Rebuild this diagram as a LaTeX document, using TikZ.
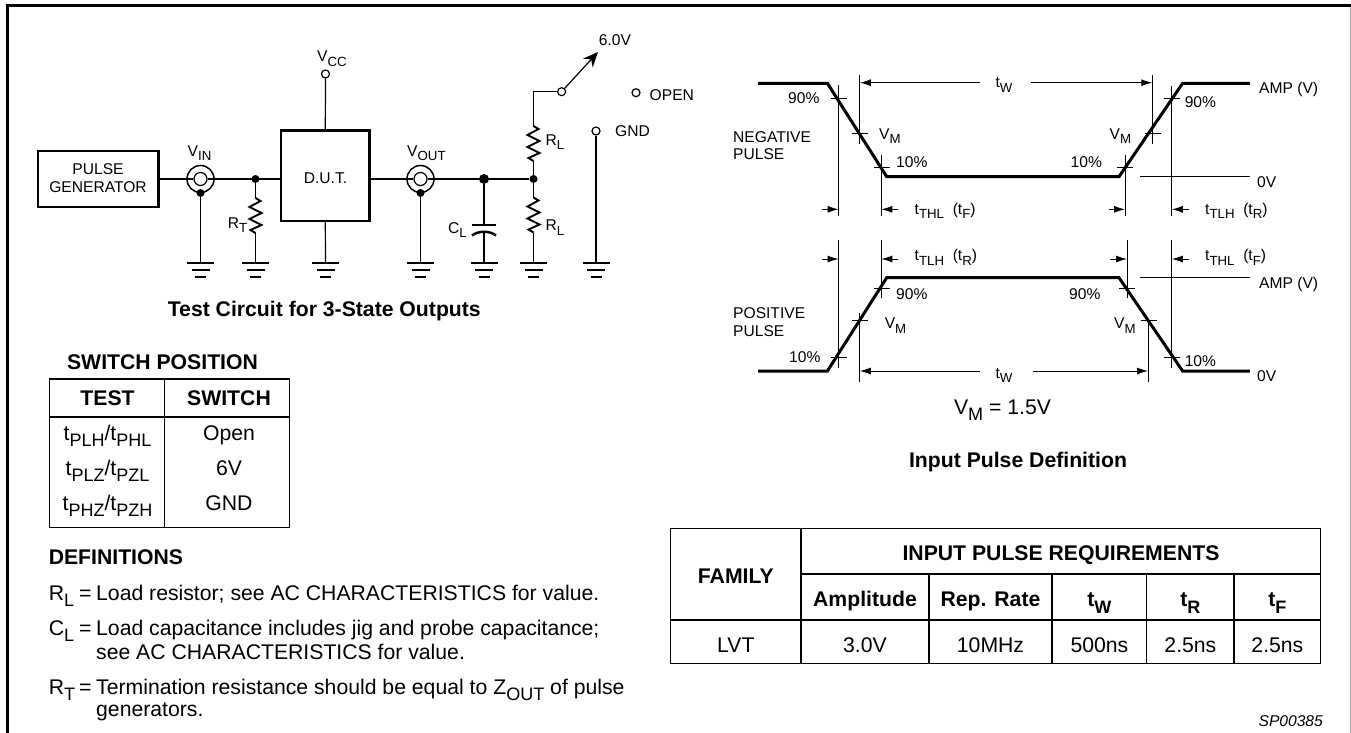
\documentclass[tikz,border=0pt]{standalone}
\usepackage{fontspec}
\setmainfont{Liberation Sans}
\usetikzlibrary{arrows.meta}
\newcommand{\lowtxt}[1]{\raisebox{-.3em}{\scalebox{.85}{#1}}}
\definecolor{framegray}{gray}{0.65}
\tikzset{
    smalltxt/.style={font=\fontsize{15.6}{18}\selectfont,inner sep=0pt},
    bodytxt/.style={font=\fontsize{21.2}{25}\selectfont,inner sep=0pt},
    headtxt/.style={font=\fontsize{21.2}{25}\selectfont\bfseries,inner sep=0pt},
    wire/.style={line width=1.2pt},
    heavybox/.style={draw,line width=2.4pt,inner sep=0pt},
    termnode/.style={draw,line width=1.2pt,circle,fill=white,inner sep=0pt,minimum size=8pt},
    jointdot/.style={circle,fill=black,inner sep=0pt,minimum size=8pt},
    coaxinner/.style={draw,line width=1.2pt,circle,fill=white,inner sep=0pt,minimum size=13pt},
    coaxouter/.style={draw,line width=1.5pt,circle,inner sep=0pt,minimum size=27pt},
    pulseline/.style={line width=3pt},
    thinline/.style={line width=1pt},
    tickline/.style={line width=1.1pt},
    dimarrow/.style={line width=1pt,-{Latex[length=11pt,width=7pt]}},
    tablerule/.style={line width=1.3pt},
    gndsym/.pic={
        \draw[line width=2.4pt] (-13.5,0) -- (13.5,0);
        \draw[line width=2.4pt] (-9,7) -- (9,7);
        \draw[line width=2.4pt] (-5.5,14) -- (5.5,14);
    },
    zigzag/.pic={
        \coordinate (-a) at (0,0);
        \coordinate (-b) at (0,35);
        \draw[line width=1.9pt,line join=miter] (0,0) -- (5,3) -- (-6,9) -- (6,15) -- (-6,21) -- (6,27) -- (-5,32) -- (0,35);
    },
}
\begin{document}
\begin{tikzpicture}[x=1pt,y=-1pt]
    \useasboundingbox (0,0) rectangle (1351,733);

    % outer frame
    \draw[framegray,line width=1pt] (1350,5.6) -- (1350,733);
    \draw[line width=2.8pt] (7.3,733) -- (7.3,5.6) -- (1351,5.6);

    % test circuit
    \node[heavybox,minimum width=120.5pt,minimum height=56pt] (pgen) at (98.2,179) {};
    \node[smalltxt,anchor=base] (pgenA) at (98,174) {PULSE};
    \node[smalltxt,anchor=base] (pgenB) at (98,192) {GENERATOR};
    \node[heavybox,minimum width=88.6pt,minimum height=90pt] (dut) at (325.3,175.7) {};
    \node[smalltxt,anchor=base] (dutlbl) at (325.5,183.3) {D.U.T.};

    \node[coaxinner] (vin) at (200.5,179) {};
    \node[coaxouter] (vinshield) at (vin) {};
    \node[coaxinner] (vout) at (420.5,179) {};
    \node[coaxouter] (voutshield) at (vout) {};
    \node[jointdot] (vindot) at (200.5,193) {};
    \node[jointdot] (voutdot) at (420.5,193) {};
    \node[jointdot] (rtdot) at (255.5,179) {};
    \node[jointdot,minimum size=10pt] (cdot) at (484,179) {};
    \node[jointdot] (rldot) at (533.5,179) {};
    \coordinate (dutin) at (dut.west |- vin);
    \coordinate (dutout) at (dut.east |- vin);

    \node[termnode] (vcc) at (325.5,74) {};
    \node[termnode] (swpole) at (561.6,91.7) {};
    \node[termnode] (swopen) at (636,92.7) {};
    \node[termnode] (swgnd) at (596,131) {};
    \coordinate (swtip) at (598,52);
    \coordinate (rlbend) at (533.5,91.7);

    \foreach \gndname/\gndx in {gvin/200.5,grt/255.5,gdut/325.5,gvout/420.5,gcap/484,grl/533.5,gsw/596}{
        \coordinate (\gndname) at (\gndx,263);
        \pic at (\gndname) {gndsym};
    }

    \pic (rt) at (255.5,198) {zigzag};
    \pic (rlup) at (533.5,126) {zigzag};
    \pic (rllow) at (533.5,197.5) {zigzag};

    \coordinate (captop) at (484,225);
    \coordinate (capbot) at (484,232);

    \draw[wire] (pgen.east |- vin) -- (vin);
    \draw[wire] (vin) -- (dutin);
    \draw[wire] (dutout) -- (vout);
    \draw[wire] (vout) -- (rldot);
    \draw[wire] (vcc) -- (dut.north);
    \draw[wire] (dut.south) -- (gdut);
    \draw[wire] (vindot) -- (gvin);
    \draw[wire] (voutdot) -- (gvout);
    \draw[wire] (rtdot) -- (rt-a);
    \draw[wire] (rt-b) -- (grt);
    \draw[wire] (rldot) -- (rllow-a);
    \draw[wire] (rllow-b) -- (grl);
    \draw[wire] (rldot) -- (rlup-b);
    \draw[wire] (rlup-a) -- (rlbend) -- (swpole);
    \draw[wire] (swgnd) -- (gsw);
    \draw[wire] (cdot) -- (captop);
    \draw[wire] (capbot) -- (gcap);
    \draw[line width=2.4pt] (472,225) -- (496,225);
    \draw[line width=2.4pt] (472,235.5) .. controls (478,230.5) and (490,230.5) .. (496,235.5);
    \draw[wire,-{Stealth[length=15pt,width=13pt]}] (swpole) -- (swtip);

    \node[smalltxt,anchor=base west] (lblvcc) at (317,61.7) {V\lowtxt{CC}};
    \node[smalltxt,anchor=base west] (lblvin) at (187.5,156) {V\lowtxt{IN}};
    \node[smalltxt,anchor=base west] (lblvout) at (407,156) {V\lowtxt{OUT}};
    \node[smalltxt,anchor=base west] (lblrt) at (227.7,228) {R\lowtxt{T}};
    \node[smalltxt,anchor=base west] (lblcl) at (447.8,233) {C\lowtxt{L}};
    \node[smalltxt,anchor=base west] (lblrla) at (545.5,145) {R\lowtxt{L}};
    \node[smalltxt,anchor=base west] (lblrlb) at (545.5,230.7) {R\lowtxt{L}};
    \node[smalltxt,anchor=base] (lblsix) at (615,46) {6.0V};
    \node[smalltxt,anchor=base west] (lblopen) at (649.5,101) {OPEN};
    \node[smalltxt,anchor=base west] (lblgnd) at (615,136.7) {GND};
    \node[headtxt,anchor=base] (circtitle) at (324.3,316) {Test Circuit for 3-State Outputs};

    % negative pulse
    \draw[pulseline] (758,83.3) -- (827.4,83.3) -- (886.7,176.7) -- (1119,176.7) -- (1182.6,83.3) -- (1249.8,83.3);
    \draw[thinline] (838.6,85) -- (838.6,216);
    \draw[thinline] (859.8,75) -- (859.8,144);
    \draw[thinline] (881.3,155) -- (881.3,216);
    \draw[thinline] (1125,155) -- (1125,216);
    \draw[thinline] (1152.3,75) -- (1152.3,144);
    \draw[thinline] (1171.8,86) -- (1171.8,216);
    \draw[thinline] (1139.8,176.7) -- (1249.8,176.7);
    \foreach \tickx/\ticky in {838.6/98.7,860/133.3,881.5/167.7,1125/167.7,1152.7/133.3,1172/98.7}{
        \draw[tickline] (\tickx-8,\ticky) -- (\tickx+8,\ticky);
    }
    \coordinate (twa) at (859.8,82.7);
    \coordinate (twb) at (1152.3,82.7);
    \node[smalltxt,anchor=base] (twup) at (1004,88) {t\lowtxt{W}};
    \draw[dimarrow] (980,82.7) -- (twa);
    \draw[dimarrow] (1030.7,82.7) -- (twb);
    \draw[dimarrow] (822.4,209.3) -- (838.6,209.3);
    \draw[dimarrow] (898.3,209.3) -- (881.3,209.3);
    \draw[dimarrow] (1108.7,209.3) -- (1125,209.3);
    \draw[dimarrow] (1188.8,209.3) -- (1171.8,209.3);
    \node[smalltxt,anchor=base west] (lblneg) at (733,142.3) {NEGATIVE};
    \node[smalltxt,anchor=base west] (lblnegb) at (733,159.3) {PULSE};
    \node[smalltxt,anchor=base west] (n90a) at (788,103.3) {90\%};
    \node[smalltxt,anchor=base west] (n90b) at (1184.6,107.3) {90\%};
    \node[smalltxt,anchor=base west] (nvma) at (879,139.3) {V\lowtxt{M}};
    \node[smalltxt,anchor=base west] (nvmb) at (1109.5,139.3) {V\lowtxt{M}};
    \node[smalltxt,anchor=base west] (n10a) at (896,167.3) {10\%};
    \node[smalltxt,anchor=base west] (n10b) at (1070.5,167.3) {10\%};
    \node[smalltxt,anchor=base west] (namp) at (1259,94) {AMP (V)};
    \node[smalltxt,anchor=base west] (nzero) at (1257,187) {0V};
    \node[smalltxt,anchor=base west] (nthl) at (914.5,214.3) {t\lowtxt{THL}\ \ (t\lowtxt{F})};
    \node[smalltxt,anchor=base west] (ntlh) at (1205,214.3) {t\lowtxt{TLH}\ \ (t\lowtxt{R})};

    % positive pulse
    \draw[pulseline] (758,371) -- (827.4,371) -- (886.7,277.7) -- (1119,277.7) -- (1182.6,371) -- (1249.8,371);
    \draw[thinline] (838.6,240) -- (838.6,368);
    \draw[thinline] (859.8,312.7) -- (859.8,381.7);
    \draw[thinline] (881.3,240) -- (881.3,298.3);
    \draw[thinline] (1127,240) -- (1127,298.3);
    \draw[thinline] (1148,323) -- (1148,381.7);
    \draw[thinline] (1171.8,240) -- (1171.8,368);
    \draw[thinline] (1139.8,277.7) -- (1249.8,277.7);
    \foreach \tickx/\ticky in {838.6/357.7,860/320.3,881.5/288.3,1127/288.3,1148.5/320.3,1172.3/357.7}{
        \draw[tickline] (\tickx-8,\ticky) -- (\tickx+8,\ticky);
    }
    \coordinate (twc) at (859.8,371);
    \coordinate (twd) at (1148,371);
    \node[smalltxt,anchor=base] (twlow) at (1004,378) {t\lowtxt{W}};
    \draw[dimarrow] (980,371) -- (twc);
    \draw[dimarrow] (1033,371) -- (twd);
    \draw[dimarrow] (822.4,259) -- (838.6,259);
    \draw[dimarrow] (898.3,259) -- (881.3,259);
    \draw[dimarrow] (1110.4,259) -- (1127,259);
    \draw[dimarrow] (1188.8,259) -- (1171.8,259);
    \node[smalltxt,anchor=base west] (lblpos) at (733,318) {POSITIVE};
    \node[smalltxt,anchor=base west] (lblposb) at (733,336) {PULSE};
    \node[smalltxt,anchor=base west] (p90a) at (896,299.3) {90\%};
    \node[smalltxt,anchor=base west] (p90b) at (1069,299.3) {90\%};
    \node[smalltxt,anchor=base west] (pvma) at (884.6,328.7) {V\lowtxt{M}};
    \node[smalltxt,anchor=base west] (pvmb) at (1114,328.7) {V\lowtxt{M}};
    \node[smalltxt,anchor=base west] (p10a) at (789,362.7) {10\%};
    \node[smalltxt,anchor=base west] (p10b) at (1184.6,366) {10\%};
    \node[smalltxt,anchor=base west] (pamp) at (1259,288.3) {AMP (V)};
    \node[smalltxt,anchor=base west] (pzero) at (1257,381.7) {0V};
    \node[smalltxt,anchor=base west] (ptlh) at (914.5,260.7) {t\lowtxt{TLH}\ \ (t\lowtxt{R})};
    \node[smalltxt,anchor=base west] (pthl) at (1205,260.7) {t\lowtxt{THL}\ \ (t\lowtxt{F})};
    \node[bodytxt,anchor=base] (vmval) at (1002.5,414) {V\lowtxt{M} = 1.5V};
    \node[headtxt,anchor=base] (pulsetitle) at (1018,467) {Input Pulse Definition};

    % switch table
    \node[headtxt,anchor=base] (swhead) at (162.5,369.5) {SWITCH POSITION};
    \draw[tablerule] (49.4,379) rectangle (289.7,527.3);
    \draw[tablerule] (49.4,417) -- (289.7,417);
    \draw[tablerule] (164.8,379) -- (164.8,527.3);
    \node[headtxt,anchor=base] (swtest) at (107.5,405) {TEST};
    \node[headtxt,anchor=base] (swswitch) at (229,405) {SWITCH};
    \node[bodytxt,anchor=base] (swra) at (107.5,440) {t\lowtxt{PLH}/t\lowtxt{PHL}};
    \node[bodytxt,anchor=base] (swrb) at (107.5,475) {t\lowtxt{PLZ}/t\lowtxt{PZL}};
    \node[bodytxt,anchor=base] (swrc) at (107.5,510) {t\lowtxt{PHZ}/t\lowtxt{PZH}};
    \node[bodytxt,anchor=base] (swva) at (229,440) {Open};
    \node[bodytxt,anchor=base] (swvb) at (229,475) {6V};
    \node[bodytxt,anchor=base] (swvc) at (229,510) {GND};

    % definitions
    \node[headtxt,anchor=base west] (defhead) at (48.6,564) {DEFINITIONS};
    \node[bodytxt,anchor=base west] (defrl) at (48.6,600) {R\lowtxt{L}};
    \node[bodytxt,anchor=base] (defrleq) at (85.4,600) {=};
    \node[bodytxt,anchor=base west] (defrltx) at (96,600) {Load resistor; see AC CHARACTERISTICS for value.};
    \node[bodytxt,anchor=base west] (defcl) at (48.6,635.3) {C\lowtxt{L}};
    \node[bodytxt,anchor=base] (defcleq) at (85.4,635.3) {=};
    \node[bodytxt,anchor=base west] (defcltx) at (96,635.3) {Load capacitance includes jig and probe capacitance;};
    \node[bodytxt,anchor=base west] (defcltxb) at (96,659) {see AC CHARACTERISTICS for value.};
    \node[bodytxt,anchor=base west] (defrt) at (48.6,694.3) {R\lowtxt{T}};
    \node[bodytxt,anchor=base] (defrteq) at (85.4,694.3) {=};
    \node[bodytxt,anchor=base west] (defrttx) at (96,694.3) {Termination resistance should be equal to Z\lowtxt{OUT} of pulse};
    \node[bodytxt,anchor=base west] (defrttxb) at (96,716.7) {generators.};

    % pulse requirements table
    \draw[tablerule] (670.6,528.3) rectangle (1320.8,663.7);
    \draw[tablerule] (801,574) -- (1320.8,574);
    \draw[tablerule] (670.6,620) -- (1320.8,620);
    \draw[tablerule] (801,528.3) -- (801,663.7);
    \foreach \colx in {929,1052,1146.8,1234}{
        \draw[tablerule] (\colx,574) -- (\colx,663.7);
    }
    \node[headtxt,anchor=base] (tfam) at (735.8,583) {FAMILY};
    \node[headtxt,anchor=base] (treq) at (1061,560) {INPUT PULSE REQUIREMENTS};
    \node[headtxt,anchor=base] (tamp) at (865,606.7) {Amplitude};
    \node[headtxt,anchor=base] (trep) at (990.5,606.7) {Rep. Rate};
    \node[headtxt,anchor=base] (ttw) at (1099.4,606.7) {t\lowtxt{W}};
    \node[headtxt,anchor=base] (ttr) at (1190.4,606.7) {t\lowtxt{R}};
    \node[headtxt,anchor=base] (ttf) at (1277.4,606.7) {t\lowtxt{F}};
    \node[bodytxt,anchor=base] (vlvt) at (735.8,652.7) {LVT};
    \node[bodytxt,anchor=base] (vamp) at (865,652.7) {3.0V};
    \node[bodytxt,anchor=base] (vrep) at (990.5,652.7) {10MHz};
    \node[bodytxt,anchor=base] (vtw) at (1099.4,652.7) {500ns};
    \node[bodytxt,anchor=base] (vtr) at (1190.4,652.7) {2.5ns};
    \node[bodytxt,anchor=base] (vtf) at (1277.4,652.7) {2.5ns};
    \node[smalltxt,anchor=base east,font=\fontsize{15.6}{18}\selectfont\itshape] (spcode) at (1323,726.7) {SP00385};
\end{tikzpicture}
\end{document}
